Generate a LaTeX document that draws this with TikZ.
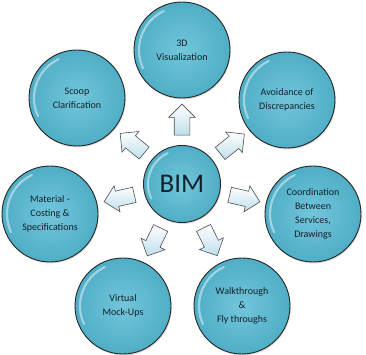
\documentclass[tikz,border=0pt]{standalone}
\usepackage{fontspec}
\setmainfont{Carlito}
\usetikzlibrary{shapes.arrows,shadows}
\definecolor{ballin}{HTML}{72C6DA}
\definecolor{ballout}{HTML}{4FAEC6}
\definecolor{textc}{HTML}{14202C}
\definecolor{arrowc}{HTML}{BFDFEA}
\definecolor{arrowline}{HTML}{4A4F55}
\tikzset{
  bubble/.style={circle, draw=black!85, line width=0.9pt, minimum size=96pt, inner sep=0pt,
    inner color=ballin, outer color=ballout, align=center, text=textc,
    font=\fontsize{10}{14}\selectfont,
    drop shadow={shadow xshift=0.8pt, shadow yshift=-1.5pt, opacity=0.25}},
  hub/.style={bubble, minimum size=77pt, font=\fontsize{27}{30}\selectfont},
  blockarrow/.style={single arrow, draw=arrowline, line width=0.6pt, minimum height=31pt,
    inner xsep=0pt, inner ysep=7.5pt, single arrow head extend=5.5pt,
    top color=white, bottom color=arrowc},
  gloss/.style={white, opacity=0.45, line width=2.2pt, line cap=round}
}
\begin{document}
\begin{tikzpicture}[x=1pt,y=1pt]
\useasboundingbox (0,0) rectangle (366,355);
\node[hub] (bim) at (182,171) {BIM};
\node[bubble] (vis) at (182,305) {3D\\Visualization};
\node[bubble] (scoop) at (77,257) {Scoop\\Clarification};
\node[bubble] (avoid) at (287,255) {Avoidance of\\Discrepancies};
\node[bubble] (mat) at (50,141) {Material -\\Costing \&\\Specifications};
\node[bubble] (coord) at (313,141) {Coordination\\Between\\Services,\\Drawings};
\node[bubble] (mock) at (123,49) {Virtual\\Mock-Ups};
\node[bubble] (walk) at (242,49) {Walkthrough\\\&\\Fly throughs};
\foreach \n in {vis,scoop,avoid,mat,coord,mock,walk}
  \draw[gloss] (\n.center) ++(115:43) arc (115:205:43);
\draw[gloss] (bim.center) ++(115:34) arc (115:205:34);
\path (bim.center) ++(90:60.5) node[blockarrow, rotate=90] (a1) {};
\path (bim.center) ++(140.7:60.5) node[blockarrow, rotate=140.7] (a2) {};
\path (bim.center) ++(38.7:60.5) node[blockarrow, rotate=38.7] (a3) {};
\path (bim.center) ++(192.8:60.5) node[blockarrow, rotate=192.8] (a4) {};
\path (bim.center) ++(-12.9:60.5) node[blockarrow, rotate=-12.9] (a5) {};
\path (bim.center) ++(244.2:60.5) node[blockarrow, rotate=244.2] (a6) {};
\path (bim.center) ++(-63.8:60.5) node[blockarrow, rotate=-63.8] (a7) {};
\end{tikzpicture}
\end{document}
